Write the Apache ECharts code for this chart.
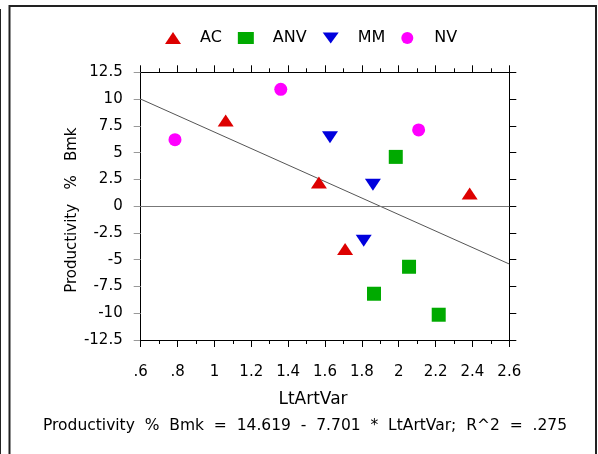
<!DOCTYPE html>
<html>
<head>
<meta charset="utf-8">
<script src="https://cdn.jsdelivr.net/npm/echarts@6/dist/echarts.min.js"></script>
<style>
html,body{margin:0;padding:0;background:#fff;}
#chart{width:598px;height:454px;}
</style>
</head>
<body>
<div id="chart"></div>
<script>
// ---- data ----
const seriesNames = ['AC', 'ANV', 'MM', 'NV'];
const acPoints  = [[1.061, 7.99], [1.567, 2.2], [1.709, -4.01], [2.385, 1.18]];
const anvPoints = [[1.984, 4.6], [2.056, -5.66], [1.866, -8.18], [2.217, -10.14]];
const mmPoints  = [[1.627, 6.44], [1.86, 1.99], [1.81, -3.24]];
const nvPoints  = [[0.786, 6.21], [1.36, 10.91], [2.108, 7.12]];
const regressionLine = [[0.6, 9.998], [2.6, -5.404]];
const xTickLabels = ['.6', '.8', '1', '1.2', '1.4', '1.6', '1.8', '2', '2.2', '2.4', '2.6'];
const yTickLabels = ['-12.5', '-10', '-7.5', '-5', '-2.5', '0', '2.5', '5', '7.5', '10', '12.5'];
const xTitle = 'LtArtVar';
const yTitle = 'Productivity   %   Bmk';
const footnote = 'Productivity  %  Bmk  =  14.619  -  7.701  *  LtArtVar;  R^2  =  .275';

const FONT = '"DejaVu Sans", "Liberation Sans", Arial, sans-serif';
const colors = ['#dd0000', '#00aa00', '#0000dd', '#ff00ff'];
const downTri = 'path://M0,0 L20,0 L10,14 Z';

const chart = echarts.init(document.getElementById('chart'));

const xCommon = {
  type: 'value', min: 0.6, max: 2.6, interval: 0.2,
  axisLine: {show: true, onZero: false, lineStyle: {color: '#000', width: 1}},
  axisTick: {show: true, inside: false, length: 7, lineStyle: {color: '#000'}},
  minorTick: {show: true, splitNumber: 2, length: 4, lineStyle: {color: '#000'}},
  splitLine: {show: false}
};
const yCommon = {
  type: 'value', min: -12.5, max: 12.5, interval: 2.5,
  axisLine: {show: true, onZero: false, lineStyle: {color: '#000', width: 1}},
  splitLine: {show: false}
};

const option = {
  backgroundColor: '#fff',
  animation: false,
  textStyle: {fontFamily: FONT},
  legend: {
    data: seriesNames,
    left: 160, top: 25,
    itemWidth: 16, itemHeight: 12,
    itemGap: 16,
    textStyle: {fontFamily: FONT, fontSize: 16, color: '#000', padding: [0, 0, 0, 14]}
  },
  grid: {left: 140.7, right: 88.7, top: 72.3, bottom: 114, containLabel: false},
  xAxis: [
    Object.assign({}, xCommon, {
      position: 'bottom',
      name: xTitle, nameLocation: 'middle', nameGap: 51,
      nameTextStyle: {fontFamily: FONT, fontSize: 17, color: '#000', padding: [0, 24, 0, 0]},
      axisLabel: {
        margin: 25, fontFamily: FONT, fontSize: 15, color: '#000',
        formatter: v => xTickLabels[Math.round((v - 0.6) / 0.2)]
      }
    }),
    Object.assign({}, xCommon, {
      position: 'top',
      axisLabel: {show: false}
    })
  ],
  yAxis: [
    Object.assign({}, yCommon, {
      position: 'left',
      name: yTitle, nameLocation: 'middle', nameGap: 61, nameMoveOverlap: false,
      nameTextStyle: {fontFamily: FONT, fontSize: 15, color: '#000', padding: [0, 8, 0, 0]},
      axisTick: {show: true, inside: false, length: 7, lineStyle: {color: '#999'}},
      axisLabel: {
        margin: 18, fontFamily: FONT, fontSize: 15, color: '#000',
        formatter: v => yTickLabels[Math.round((v + 12.5) / 2.5)]
      }
    }),
    Object.assign({}, yCommon, {
      position: 'right',
      axisTick: {show: true, inside: false, length: 7, lineStyle: {color: '#000'}},
      axisLabel: {show: false}
    })
  ],
  series: [
    {
      name: 'regression', type: 'line', data: regressionLine, silent: true,
      showSymbol: false, symbol: 'none',
      lineStyle: {color: '#555', width: 1}, z: 1,
      markLine: {
        silent: true, symbol: 'none', label: {show: false},
        lineStyle: {color: '#777', width: 1, type: 'solid'},
        data: [{yAxis: 0}]
      }
    },
    {name: 'AC', type: 'scatter', data: acPoints, symbol: 'triangle', symbolSize: [16, 12],
     itemStyle: {color: colors[0], opacity: 1}, z: 3},
    {name: 'ANV', type: 'scatter', data: anvPoints, symbol: 'rect', symbolSize: 14,
     itemStyle: {color: colors[1], opacity: 1}, z: 3},
    {name: 'MM', type: 'scatter', data: mmPoints, symbol: downTri, symbolSize: [16, 12],
     itemStyle: {color: colors[2], opacity: 1}, z: 3},
    {name: 'NV', type: 'scatter', data: nvPoints, symbol: 'circle', symbolSize: 13,
     itemStyle: {color: colors[3], opacity: 1}, z: 3}
  ],
  graphic: [
    {type: 'rect', shape: {x: 9.5, y: 6, width: 586.5, height: 460},
     style: {fill: null, stroke: '#222', lineWidth: 2}, silent: true},
    {type: 'line', shape: {x1: 0.5, y1: 9, x2: 0.5, y2: 454},
     style: {stroke: '#222', lineWidth: 1}, silent: true},
    {type: 'text', x: 305, y: 426,
     style: {text: footnote, font: '15.5px ' + FONT, fill: '#000', textAlign: 'center', textVerticalAlign: 'middle'},
     silent: true}
  ]
};
chart.setOption(option);
</script>
</body>
</html>
